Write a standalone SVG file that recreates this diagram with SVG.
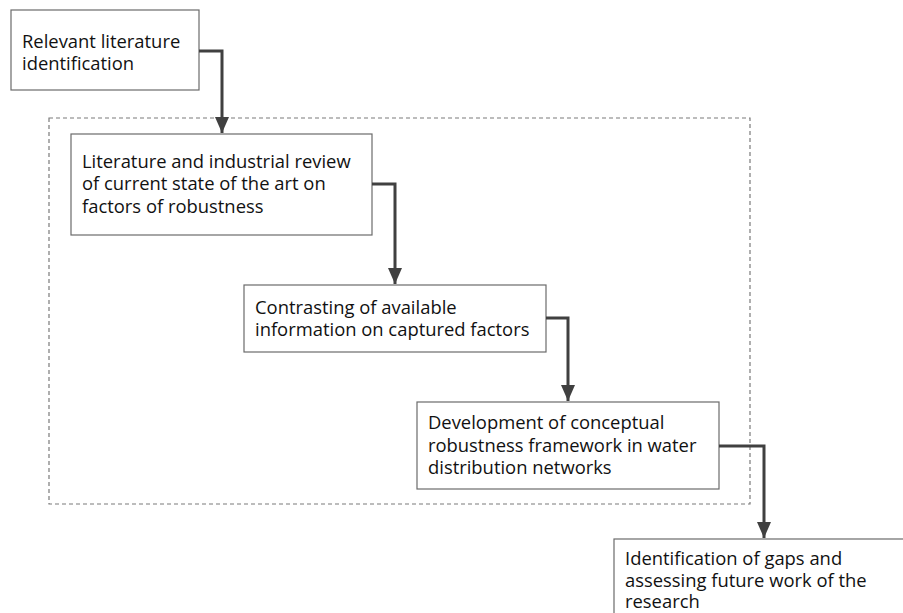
<svg xmlns="http://www.w3.org/2000/svg" width="903" height="613" viewBox="0 0 903 613">
  <style>
    .box { fill: #ffffff; stroke: #6b6b6b; stroke-width: 1.2; }
    .frame { fill: none; stroke: #7a7a7a; stroke-width: 1.2; stroke-dasharray: 4 3; }
    .label { font-family: "Open Sans", "Liberation Sans", sans-serif; font-size: 18.4px; fill: #111111; }
    .link { fill: none; stroke: #404040; stroke-width: 3; }
  </style>
  <defs>
    <marker id="arrow" markerUnits="userSpaceOnUse" markerWidth="18" markerHeight="14" refX="16" refY="7" orient="auto">
      <path d="M0,0 L16,7 L0,14 Z" fill="#404040"/>
    </marker>
  </defs>
  <rect width="903" height="613" fill="#ffffff"/>

  <!-- dashed frame around the core steps -->
  <rect class="frame" x="49" y="118" width="701" height="386"/>

  <g id="node-1">
    <rect class="box" x="11" y="10" width="188" height="80"/>
    <text class="label" x="22" y="48">Relevant literature</text>
    <text class="label" x="22" y="70">identification</text>
  </g>

  <g id="node-2">
    <rect class="box" x="71" y="134" width="301" height="101"/>
    <text class="label" x="82" y="168">Literature and industrial review</text>
    <text class="label" x="82" y="190">of current state of the art on</text>
    <text class="label" x="82" y="213">factors of robustness</text>
  </g>

  <g id="node-3">
    <rect class="box" x="244" y="285" width="302" height="67"/>
    <text class="label" x="255" y="314">Contrasting of available</text>
    <text class="label" x="255" y="336">information on captured factors</text>
  </g>

  <g id="node-4">
    <rect class="box" x="417" y="402" width="302" height="87"/>
    <text class="label" x="428" y="429">Development of conceptual</text>
    <text class="label" x="428" y="452">robustness framework in water</text>
    <text class="label" x="428" y="474">distribution networks</text>
  </g>

  <g id="node-5">
    <rect class="box" x="614" y="539" width="300" height="90"/>
    <text class="label" x="625" y="565">Identification of gaps and</text>
    <text class="label" x="625" y="587">assessing future work of the</text>
    <text class="label" x="625" y="608">research</text>
  </g>

  <g id="connectors">
    <path class="link" d="M199,51 H222 V133" marker-end="url(#arrow)"/>
    <path class="link" d="M372,184 H395 V284" marker-end="url(#arrow)"/>
    <path class="link" d="M546,318 H568 V401" marker-end="url(#arrow)"/>
    <path class="link" d="M719,446 H764 V538" marker-end="url(#arrow)"/>
  </g>
</svg>
